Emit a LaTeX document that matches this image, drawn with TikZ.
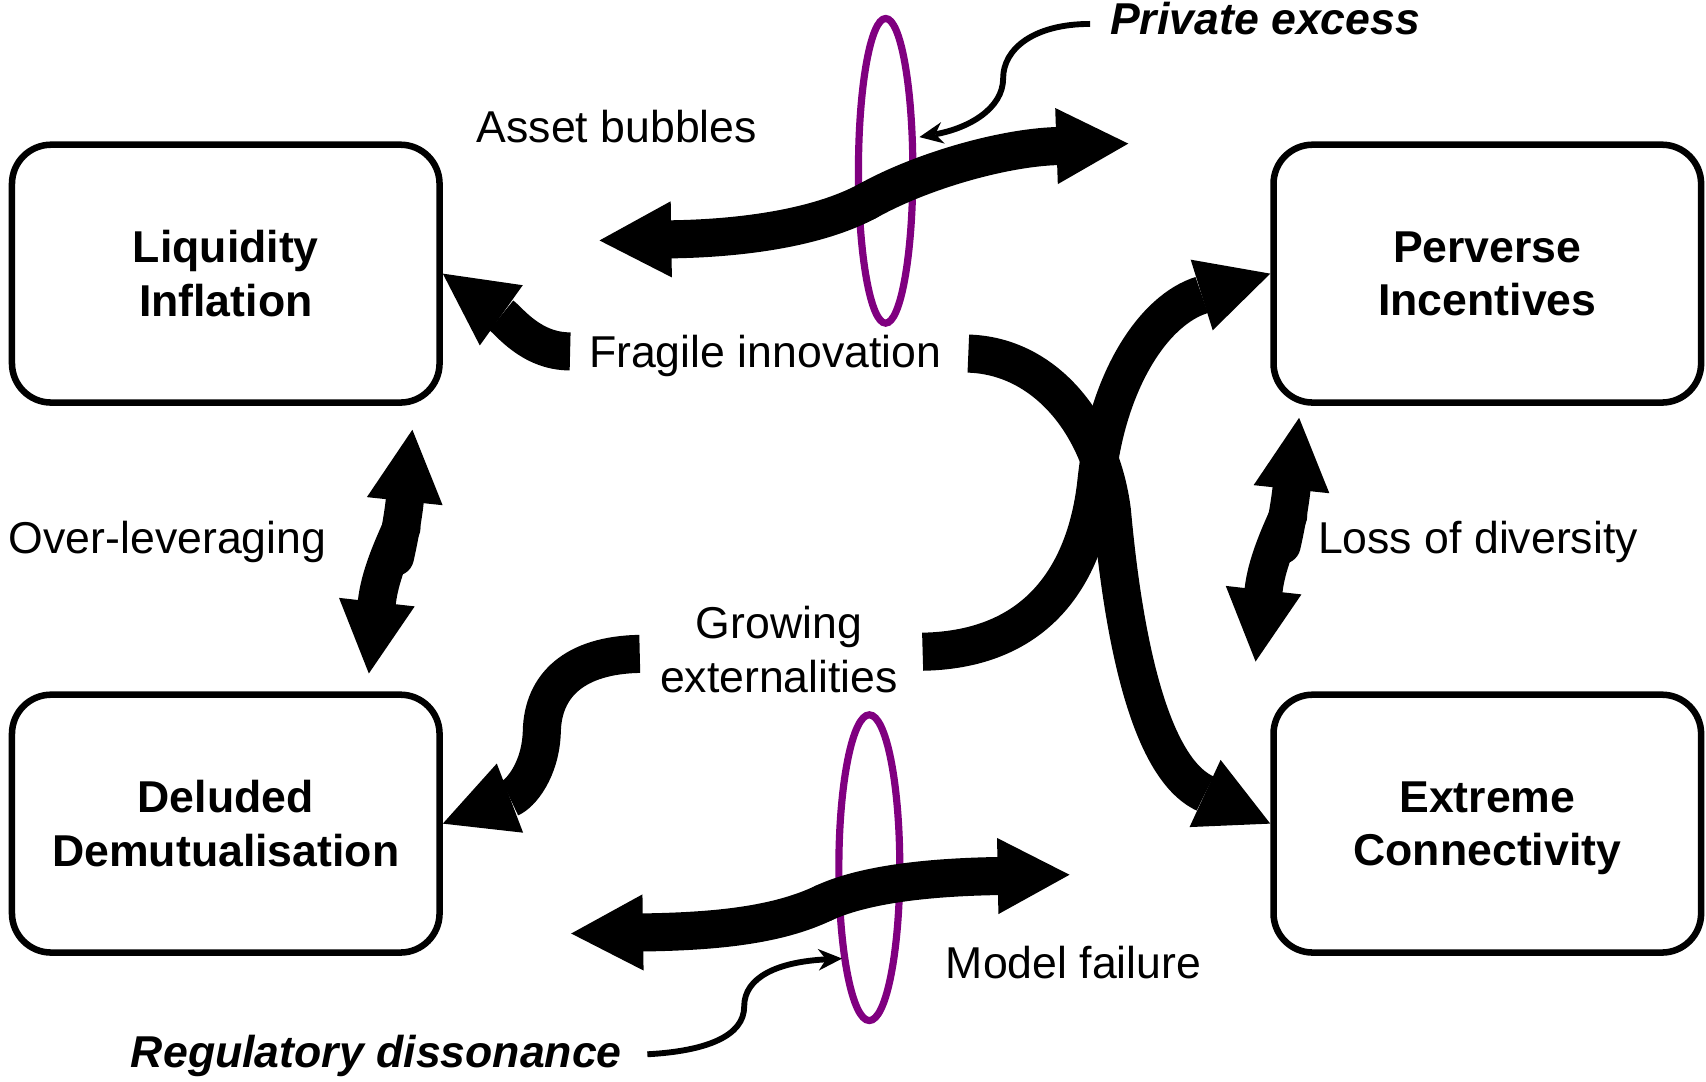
\documentclass[tikz,border=0pt]{standalone}
\usepackage{fontspec}
\setmainfont{Liberation Sans}
\usetikzlibrary{arrows.meta,calc,shapes.geometric}
\definecolor{ringpurple}{RGB}{128,0,128}
\begin{document}
\begin{tikzpicture}[x=0.5pt,y=-0.5pt,
  box/.style={draw, line width=3pt, rounded corners=18pt, minimum width=196.5pt, minimum height=118.5pt,
    align=center, inner sep=0pt, font=\fontsize{20.5}{24.5}\selectfont\bfseries},
  lbl/.style={inner sep=0pt, font=\fontsize{20.5}{25}\selectfont},
  note/.style={inner sep=0pt, font=\fontsize{20.5}{25}\selectfont\bfseries\itshape},
  bigarrow/.style={line width=17.5pt, -{Triangle[length=33pt,width=34pt,line width=0pt]}},
  dblarrow/.style={line width=17.5pt, line cap=round, -{Triangle[length=33pt,width=35pt,line width=0pt]}},
  thinarrow/.style={line width=2.7pt, -{Stealth[length=11pt,width=10pt,line width=0pt]}},
  ring/.style={draw=ringpurple, line width=3.3pt, ellipse, inner sep=0pt}
]
\useasboundingbox (0,0) rectangle (1568,994);

% boxes
\node[box] (li) at (207.5,251.5) {Liquidity\\Inflation};
\node[box] (pi) at (1367,251.5) {Perverse\\Incentives};
\node[box] (dd) at (207.5,757) {Deluded\\Demutualisation};
\node[box] (ec) at (1367,757) {Extreme\\\raisebox{0pt}[\height][0pt]{Connectivity}};

% labels
\node[lbl, anchor=base] (ab) at (567,131) {Asset bubbles};
\node[lbl, anchor=base west] (fi) at (541,338) {Fragile innovation};
\node[lbl, anchor=base] (ol) at (154,509) {Over-leveraging};
\node[lbl, anchor=base west] (ld) at (1211,509) {Loss of diversity};
\node[lbl, align=center] (ge) at (716,597) {Growing\\externalities};
\node[lbl, anchor=base west] (mf) at (869,899) {Model failure};
\node[note, anchor=base west] (pe) at (1020,32) {Private excess};
\node[note, anchor=base west] (rd) at (120,981) {Regulatory dissonance};

% rings
\node[ring, minimum width=25pt, minimum height=140pt] (r1) at (814,157) {};
\node[ring, minimum width=28pt, minimum height=140.5pt] (r2) at (799,797.5) {};

% free ends
\coordinate (fiL) at (524,323);
\coordinate (fiR) at (890,325);
\coordinate (geL) at (588,601);
\coordinate (geR) at (848,599);
\coordinate (abM) at (797,185);
\coordinate (abL) at (551,221);
\coordinate (abR) at (1037,132);
\coordinate (mfM) at (757,830);
\coordinate (mfL) at (525,858);
\coordinate (mfR) at (983,804);
\coordinate (olU) at (379,395);
\coordinate (olD) at (339,619);
\coordinate (ldU) at (1194,384);
\coordinate (ldD) at (1154,608);
\coordinate (peS) at (1002,22);
\coordinate (peT) at (845,126);
\coordinate (rdS) at (595,969);
\coordinate (rdT) at (774,881);

% thick curved arrows
\draw[bigarrow] (fiL) .. controls (488,323) and (468,295) .. (li.east);
\draw[bigarrow] (fiR) .. controls (960,327) and (1012,390) .. (1022,470)
                      .. controls (1032,580) and (1055,705) .. (ec.west);
\draw[bigarrow] (geR) .. controls (960,597) and (1000,520) .. (1008,440)
                      .. controls (1018,350) and (1060,285) .. (pi.west);
\draw[bigarrow] (geL) .. controls (528,602) and (499,630) .. (498,672)
                      .. controls (497,708) and (478,730) .. (dd.east);

% double arrows
\draw[dblarrow] (abM) .. controls (750,210) and (680,219) .. (abL);
\draw[dblarrow] (abM) .. controls (845,158) and (920,136) .. (abR);
\draw[dblarrow] (mfM) .. controls (715,850) and (660,856) .. (mfL);
\draw[dblarrow] (mfM) .. controls (800,810) and (870,806) .. (mfR);

\draw[dblarrow] (363,512) .. controls (368,490) and (371,470) .. (olU);
\draw[dblarrow] (369,485) .. controls (360,505) and (349,530) .. (olD);
\draw[dblarrow] (1178,501) .. controls (1183,479) and (1186,459) .. (ldU);
\draw[dblarrow] (1184,474) .. controls (1175,494) and (1164,519) .. (ldD);

% thin arrows
\draw[thinarrow] (peS) .. controls (950,22) and (922,45) .. (922,72)
                       .. controls (922,100) and (890,118) .. (peT);
\draw[thinarrow] (rdS) .. controls (650,966) and (684,952) .. (684,925)
                       .. controls (684,898) and (715,884) .. (rdT);
\end{tikzpicture}
\end{document}
